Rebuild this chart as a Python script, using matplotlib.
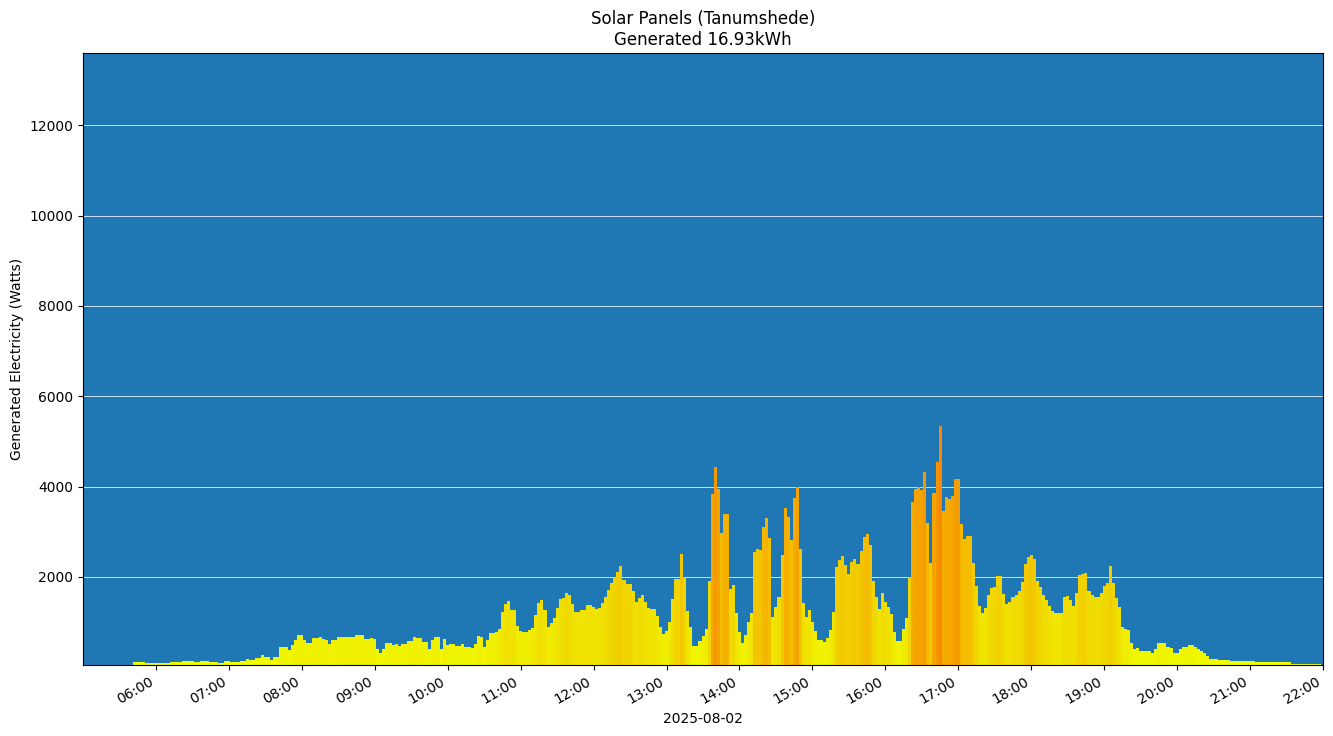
import matplotlib
matplotlib.use("Agg")
import matplotlib.pyplot as plt
import matplotlib.dates as mdates
from matplotlib.colors import LinearSegmentedColormap, Normalize
import pandas as pd

DAY = "2025-08-02"
START = "05:42:30"   # first reading, one reading every 2.5 minutes
STEP_MIN = 2.5

# generated power in watts, one row per hour
early = [
    120, 120, 120, 120, 90, 90, 90,                                            # 05:42:30-
    90, 90, 90, 90, 90, 120, 120, 120, 120, 140, 140, 140,
    140, 120, 120, 140, 140, 140, 120, 120, 120, 90, 90, 140,                  # 06
    140, 120, 120, 120, 140, 140, 185, 165, 165, 200, 200, 274,
    237, 237, 150, 237, 237, 443, 437, 437, 385, 496, 600, 717,                # 07
    717, 606, 532, 532, 643, 643, 664, 620, 606, 510, 606, 606,
    664, 664, 664, 680, 680, 680, 717, 717, 717, 636, 636, 640,                # 08
    630, 400, 326, 400, 547, 547, 496, 510, 481, 510, 510, 577,
    577, 680, 650, 650, 562, 562, 407, 606, 673, 673, 400, 621,                # 09
]
midday = [
    503, 510, 510, 473, 473, 518, 459, 444, 429, 518, 700, 680,
    440, 606, 753, 753, 782, 850, 1224, 1400, 1470, 1270, 1270, 915,           # 10
    800, 790, 790, 827, 860, 1160, 1430, 1490, 1270, 900, 990, 1100,
    1305, 1505, 1525, 1650, 1600, 1400, 1224, 1224, 1270, 1270, 1380, 1380,    # 11
    1330, 1300, 1310, 1420, 1565, 1710, 1860, 2000, 2100, 2240, 1935, 1845,
    1845, 1690, 1455, 1527, 1600, 1455, 1310, 1290, 1290, 1135, 890, 740,      # 12
    800, 1000, 1500, 1955, 1955, 2510, 2000, 1245, 900, 475, 475, 590,
    700, 840, 1900, 3835, 4425, 3940, 2965, 3390, 3390, 1735, 1820, 1195,      # 13
]
afternoon = [
    790, 530, 715, 1010, 1195, 2560, 2610, 2600, 3110, 3300, 2855, 1120,
    1340, 1565, 2485, 3520, 3335, 2820, 3740, 4000, 2610, 1415, 1120, 1270,    # 14
    1005, 805, 606, 606, 555, 643, 825, 1225, 2210, 2375, 2465, 2265,
    2065, 2340, 2400, 2280, 2575, 2890, 2950, 2710, 1900, 1550, 1285, 1640,    # 15
    1445, 1330, 1175, 780, 585, 580, 855, 1090, 2000, 3665, 3940, 3985,
    3925, 4320, 3200, 2300, 3850, 4550, 5340, 3465, 3760, 3725, 3800, 4160,    # 16
    4160, 3170, 2830, 2905, 2905, 2300, 1800, 1355, 1200, 1305, 1600, 1750,
    1785, 2020, 2020, 1625, 1400, 1455, 1565, 1600, 1690, 1895, 2285, 2450,    # 17
]
evening = [
    2490, 2390, 1920, 1770, 1600, 1490, 1360, 1255, 1195, 1195, 1195, 1545,
    1580, 1490, 1360, 1640, 2045, 2065, 2080, 1695, 1600, 1565, 1565, 1650,    # 18
    1800, 1875, 2240, 1860, 1530, 1330, 900, 840, 825, 545, 400, 422,
    349, 349, 349, 349, 311, 400, 532, 532, 532, 459, 422, 326,                # 19
    326, 400, 444, 459, 496, 496, 444, 400, 356, 311, 252, 193,
    193, 193, 164, 164, 164, 164, 142, 142, 142, 142, 142, 142,                # 20
    142, 142, 119, 119, 119, 119, 119, 119, 105, 105, 105, 105,
    105, 105, 75, 75, 75, 75, 75, 75, 75, 75, 75, 75,                          # 21
]

title = "Solar Panels (Tanumshede)\nGenerated 16.93kWh"

watts = early + midday + afternoon + evening
times = pd.date_range(f"{DAY} {START}", periods=len(watts), freq=f"{int(STEP_MIN * 60)}s")

# yellow -> orange by power
cmap = LinearSegmentedColormap.from_list("sun", [
    (0.0, (0.94, 1.0, 0.0)),
    (0.3, (0.94, 0.86, 0.0)),
    (0.6, (0.96, 0.71, 0.0)),
    (0.8, (0.96, 0.60, 0.0)),
    (1.0, (1.0, 0.52, 0.0)),
])
norm = Normalize(vmin=0, vmax=5400)

fig, ax = plt.subplots(figsize=(13.33, 7.36), dpi=100)
ax.set_facecolor("#1f77b4")
ax.set_axisbelow(True)
ax.grid(axis="y", color="white", linewidth=0.6, alpha=0.9)

ax.bar(times, watts, width=STEP_MIN / 1440, align="center",
       color=cmap(norm(watts)), linewidth=0)

ax.set_xlim(pd.Timestamp(f"{DAY} 05:00"), pd.Timestamp(f"{DAY} 22:00"))
ax.set_ylim(50, 13600)
ax.xaxis.set_major_locator(mdates.HourLocator(byhour=range(6, 23)))
ax.xaxis.set_major_formatter(mdates.DateFormatter("%H:%M"))
fig.autofmt_xdate()

ax.set_title(title)
ax.set_ylabel("Generated Electricity (Watts)")
ax.set_xlabel(DAY)

fig.subplots_adjust(left=0.0623, right=0.9925, top=0.928, bottom=0.0965)
fig.savefig("out.png")
